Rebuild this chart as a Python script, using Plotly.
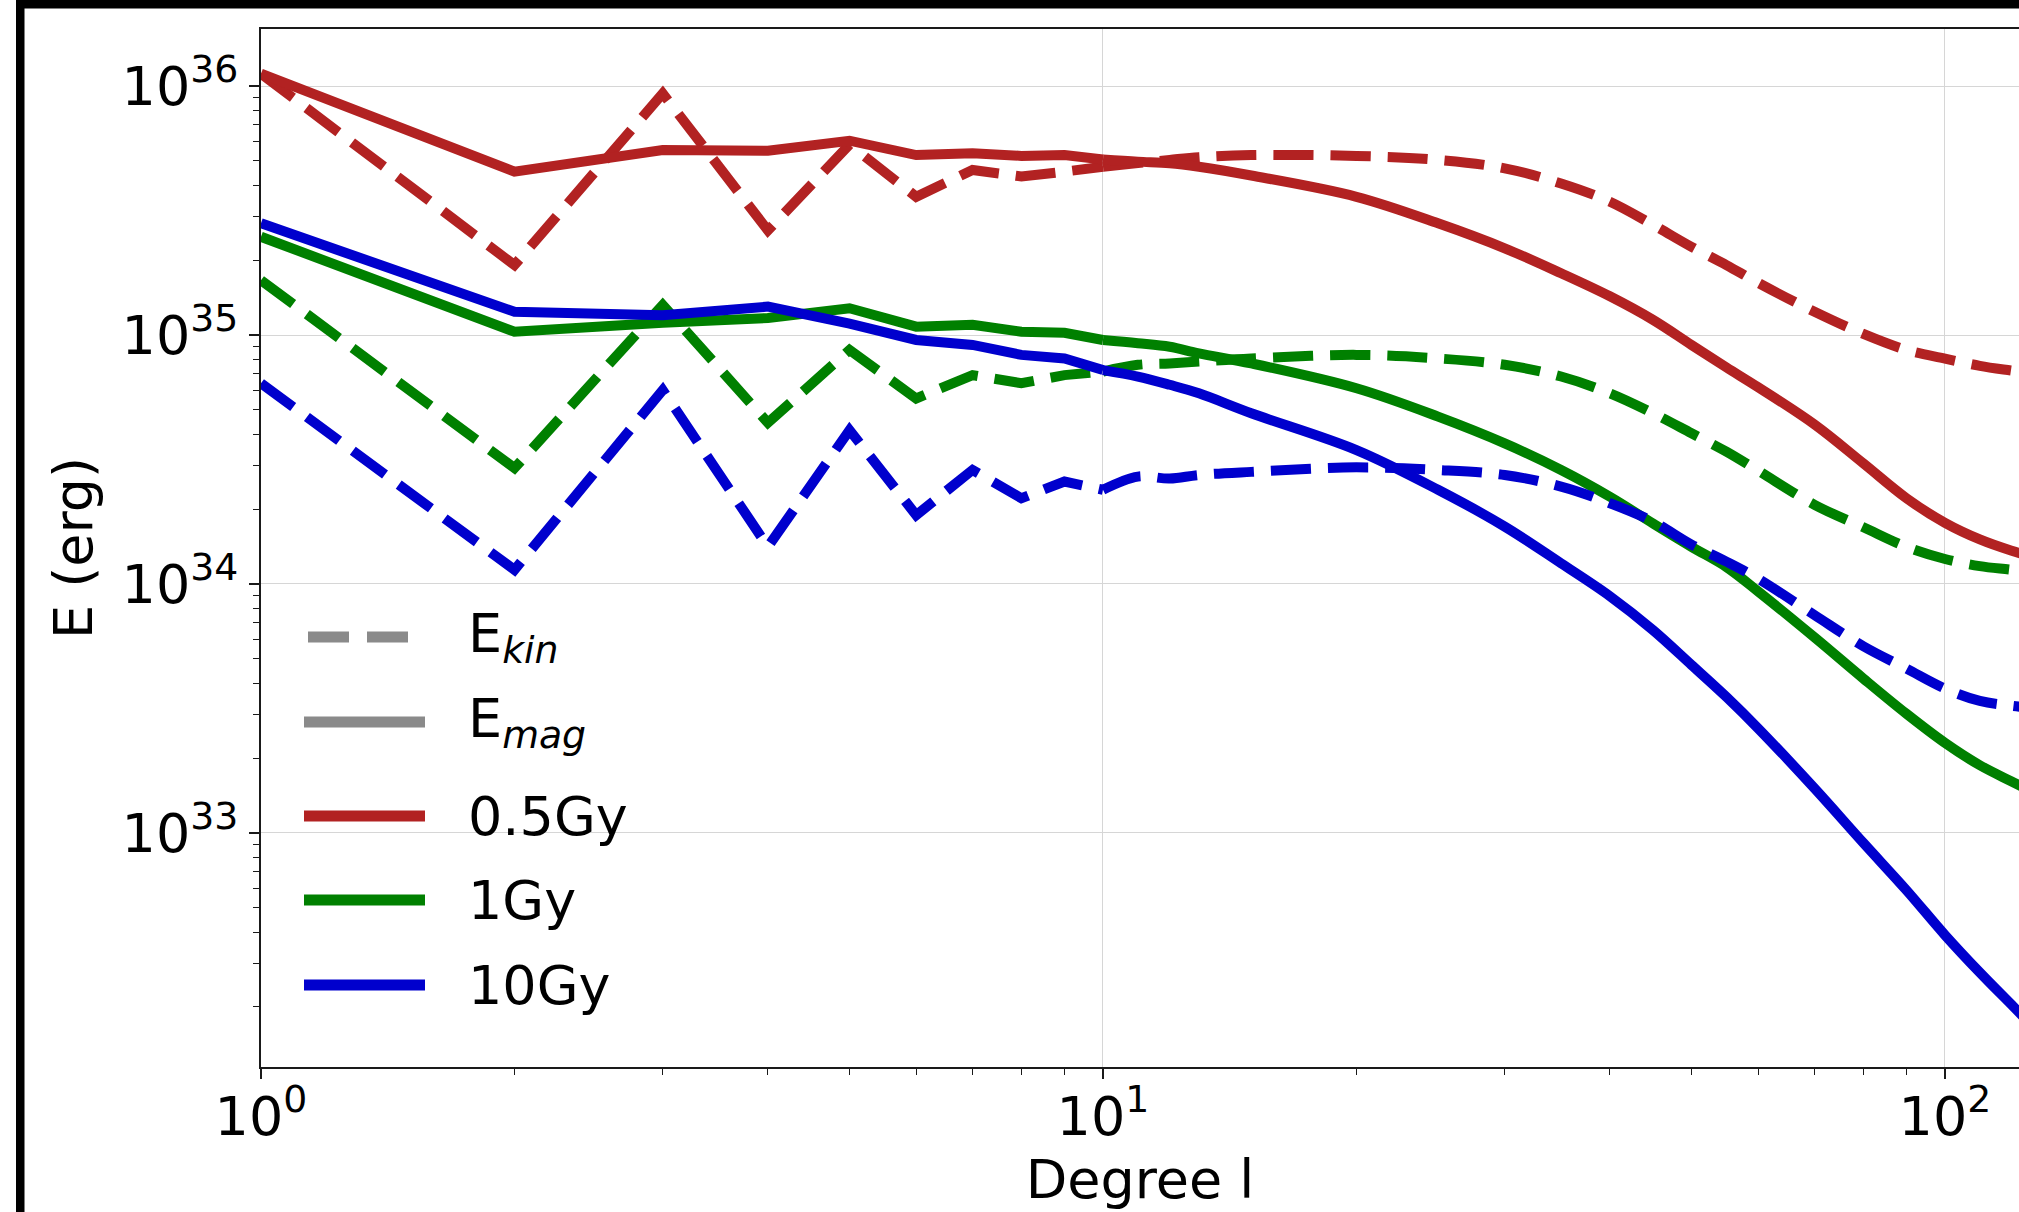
import plotly.graph_objects as go

# ---------------- data ----------------
degree = [1, 2, 3, 4, 5, 6, 7, 8, 9, 10, 11, 12, 13, 15, 20, 25, 30, 35, 40, 45,
          50, 55, 60, 70, 80, 90, 100, 110, 120, 130]

ekin_05gy = [1.12e36, 1.91e35, 9.33e35, 2.63e35, 5.82e35, 3.59e35, 4.60e35, 4.33e35, 4.53e35, 4.74e35,
             4.90e35, 5.05e35, 5.18e35, 5.28e35, 5.24e35, 5.05e35, 4.67e35, 4.06e35, 3.43e35, 2.77e35,
             2.26e35, 1.91e35, 1.62e35, 1.24e35, 1.01e35, 8.71e34, 8.04e34, 7.52e34, 7.19e34, 6.92e34]
emag_05gy = [1.12e36, 4.53e35, 5.53e35, 5.50e35, 6.03e35, 5.28e35, 5.37e35, 5.24e35, 5.28e35, 5.07e35,
             4.97e35, 4.90e35, 4.74e35, 4.37e35, 3.59e35, 2.81e35, 2.23e35, 1.77e35, 1.43e35, 1.15e35,
             9.12e34, 7.41e34, 6.17e34, 4.37e34, 3.05e34, 2.21e34, 1.76e34, 1.51e34, 1.36e34, 1.26e34]
ekin_1gy = [1.66e35, 2.92e34, 1.32e35, 4.44e34, 8.71e34, 5.56e34, 6.90e34, 6.40e34, 6.90e34, 7.13e34,
            7.59e34, 7.69e34, 7.82e34, 8.05e34, 8.32e34, 8.05e34, 7.59e34, 6.81e34, 5.83e34, 4.85e34,
            4.03e34, 3.40e34, 2.85e34, 2.08e34, 1.69e34, 1.41e34, 1.26e34, 1.18e34, 1.14e34, 1.10e34]
emag_1gy = [2.48e35, 1.03e35, 1.12e35, 1.17e35, 1.28e35, 1.08e35, 1.10e35, 1.03e35, 1.02e35, 9.55e34,
            9.27e34, 8.97e34, 8.43e34, 7.69e34, 6.11e34, 4.70e34, 3.67e34, 2.87e34, 2.24e34, 1.75e34,
            1.41e34, 1.17e34, 9.33e33, 6.10e33, 4.17e33, 3.01e33, 2.30e33, 1.87e33, 1.61e33, 1.41e33]
ekin_10gy = [6.40e34, 1.14e34, 6.01e34, 1.41e34, 4.15e34, 1.89e34, 2.87e34, 2.21e34, 2.58e34, 2.39e34,
             2.70e34, 2.65e34, 2.74e34, 2.82e34, 2.94e34, 2.87e34, 2.74e34, 2.46e34, 2.11e34, 1.78e34,
             1.44e34, 1.23e34, 1.05e34, 7.50e33, 5.62e33, 4.57e33, 3.80e33, 3.39e33, 3.24e33, 3.16e33]
emag_10gy = [2.81e35, 1.24e35, 1.20e35, 1.30e35, 1.11e35, 9.55e34, 9.12e34, 8.32e34, 8.05e34, 7.23e34,
             6.81e34, 6.31e34, 5.83e34, 4.85e34, 3.45e34, 2.39e34, 1.70e34, 1.21e34, 8.93e33, 6.53e33,
             4.73e33, 3.52e33, 2.63e33, 1.51e33, 9.12e32, 5.89e32, 3.89e32, 2.75e32, 2.04e32, 1.55e32]

series_labels = ["0.5Gy", "1Gy", "10Gy"]
type_labels = ["E<sub><i>kin</i></sub>", "E<sub><i>mag</i></sub>"]

x_tickvals = [1, 10, 100]
x_ticktext = ["10<sup>0</sup>", "10<sup>1</sup>", "10<sup>2</sup>"]
y_tickvals = [1e33, 1e34, 1e35, 1e36]
y_ticktext = ["10<sup>33</sup>", "10<sup>34</sup>", "10<sup>35</sup>", "10<sup>36</sup>"]
x_minor = [2, 3, 4, 5, 6, 7, 8, 9, 20, 30, 40, 50, 60, 70, 80, 90]
y_minor = [k * 10.0 ** n for n in (32, 33, 34, 35) for k in range(2, 10)]

# ---------------- styling ----------------
W, H = 2019, 1212
ML, MR, MT, MB = 261, 0, 29, 145
PW, PH = W - ML - MR, H - MT - MB
FONT = "DejaVu Sans"
FS = 54
RED, GREEN, BLUE, GRAY = "#b22222", "#008000", "#0000cd", "#8a8a8a"
LW = 10
DASH = "40px,17px"
SPLIT = degree.index(10)   # low degrees: straight segments; high degrees: smooth curve


def px(x):
    return (x - ML) / PW


def py(y):
    return (H - MB - y) / PH


fig = go.Figure()
for ekin, emag, col, name in [(ekin_05gy, emag_05gy, RED, series_labels[0]),
                              (ekin_1gy, emag_1gy, GREEN, series_labels[1]),
                              (ekin_10gy, emag_10gy, BLUE, series_labels[2])]:
    for vals, dash, kind in [(ekin, DASH, "kin"), (emag, "solid", "mag")]:
        fig.add_trace(go.Scatter(x=degree[:SPLIT + 1], y=vals[:SPLIT + 1], mode="lines",
                                 name=f"{name} {kind}", legendgroup=f"{name}{kind}",
                                 line=dict(color=col, width=LW, dash=dash), showlegend=False))
        fig.add_trace(go.Scatter(x=degree[SPLIT:], y=vals[SPLIT:], mode="lines",
                                 name=f"{name} {kind}", legendgroup=f"{name}{kind}",
                                 line=dict(color=col, width=LW, dash=dash, shape="spline", smoothing=1.0),
                                 showlegend=False))

axis_common = dict(
    type="log", showline=True, linecolor="#1a1a1a", linewidth=1.6,
    ticks="outside", ticklen=10, tickwidth=1.5, tickcolor="#1a1a1a",
    showgrid=True, gridcolor="#d6d6d6", gridwidth=1.4, zeroline=False,
    tickfont=dict(family=FONT, size=FS, color="black"),
)

fig.update_layout(
    width=W, height=H,
    margin=dict(l=ML, r=MR, t=MT, b=MB, autoexpand=False),
    paper_bgcolor="white", plot_bgcolor="white",
    showlegend=False,
    xaxis=dict(axis_common, range=[0, 2.0879], mirror=True,
               tickmode="array", tickvals=x_tickvals, ticktext=x_ticktext,
               ticklabelstandoff=-9,
               minor=dict(tickmode="array", tickvals=x_minor, ticks="outside", ticklen=6,
                          tickwidth=1.3, tickcolor="#1a1a1a", showgrid=False),
               title=dict(text="Degree l", font=dict(family=FONT, size=FS, color="black"), standoff=14)),
    yaxis=dict(axis_common, range=[32.060, 36.229], mirror=False,
               tickmode="array", tickvals=y_tickvals, ticktext=y_ticktext,
               minor=dict(tickmode="array", tickvals=y_minor, ticks="outside", ticklen=6,
                          tickwidth=1.3, tickcolor="#1a1a1a", showgrid=False),
               title=dict(text="E (erg)", font=dict(family=FONT, size=FS, color="black"), standoff=12)),
)

shapes = []
# outer black frame (top and left edges of the cropped figure)
shapes.append(dict(type="rect", xref="paper", yref="paper", x0=px(16), x1=px(24.5), y0=py(H), y1=py(0),
                   fillcolor="black", line=dict(width=0), layer="above"))
shapes.append(dict(type="rect", xref="paper", yref="paper", x0=px(16), x1=px(W), y0=py(8.5), y1=py(0),
                   fillcolor="black", line=dict(width=0), layer="above"))

# manual legend
legend_rows = [
    (type_labels[0], GRAY, "41px,18px", 637),
    (type_labels[1], GRAY, "solid", 722),
    (series_labels[0], RED, "solid", 816),
    (series_labels[1], GREEN, "solid", 900),
    (series_labels[2], BLUE, "solid", 985),
]
annotations = []
for text, col, dash, yy in legend_rows:
    x0 = 308 if dash != "solid" else 304
    shapes.append(dict(type="line", xref="paper", yref="paper", x0=px(x0), x1=px(425), y0=py(yy), y1=py(yy),
                       line=dict(color=col, width=11, dash=dash), layer="above"))
    annotations.append(dict(xref="paper", yref="paper", x=px(466), y=py(yy), text=text, showarrow=False,
                            xanchor="left", yanchor="middle",
                            font=dict(family=FONT, size=FS, color="black")))

fig.update_layout(shapes=shapes, annotations=annotations)
fig.write_html("out.html")
